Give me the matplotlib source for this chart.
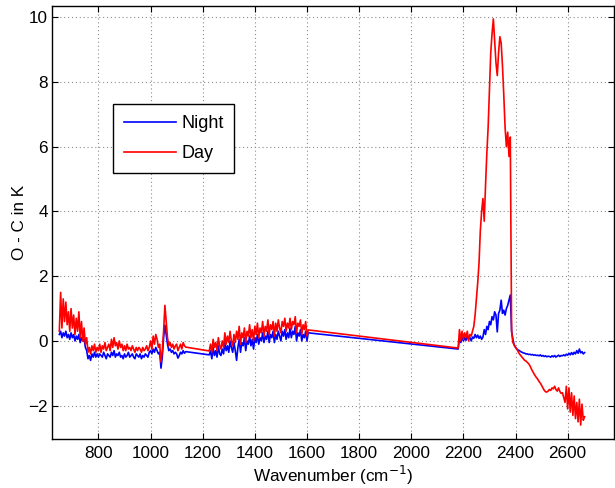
import numpy as np
import matplotlib.pyplot as plt

# Wavenumber grid (cm-1) for the three measured bands, 5 cm-1 sampling
wn_a = np.arange(650, 1136, 5)
wn_b = np.arange(1225, 1606, 5)
wn_c = np.arange(2180, 2666, 5)

# O - C values (K)
night_a = [0.2, 0.3, 0.1, 0.25, 0.15, 0.3, 0.1, 0.2, 0.05, 0.25,
           0.1, 0.2, 0.0, 0.15, 0.05, 0.2, -0.05, 0.1, 0.0, 0.05,
           -0.2, -0.3, -0.55, -0.45, -0.6, -0.4, -0.5, -0.35, -0.5, -0.4,
           -0.5, -0.4, -0.45, -0.5, -0.35, -0.45, -0.55, -0.4, -0.45, -0.5,
           -0.35, -0.45, -0.3, -0.5, -0.4, -0.45, -0.35, -0.5, -0.45, -0.55,
           -0.4, -0.5, -0.45, -0.35, -0.5, -0.45, -0.4, -0.5, -0.55, -0.4,
           -0.45, -0.5, -0.4, -0.55, -0.45, -0.5, -0.4, -0.45, -0.5, -0.35,
           -0.3, -0.4, -0.25, -0.35, -0.2, -0.3, -0.4, -0.35, -0.84, -0.5,
           0.1, 0.49, 0.2, -0.1, -0.3, -0.25, -0.35, -0.3, -0.4, -0.35,
           -0.4, -0.53, -0.45, -0.35, -0.4, -0.3, -0.38, -0.33]
day_a = [0.3, 1.5, 0.4, 1.3, 0.6, 1.2, 0.5, 0.9, 0.3, 1.0,
         0.4, 0.8, 0.2, 0.7, 0.3, 0.9, 0.1, 0.6, 0.0, 0.4,
         -0.1, 0.1, -0.35, -0.2, -0.4, -0.15, -0.3, -0.1, -0.35, -0.2,
         -0.3, -0.1, -0.35, -0.15, -0.25, -0.05, -0.3, -0.2, -0.1, -0.3,
         0.05, -0.2, 0.1, -0.15, -0.05, -0.25, 0.0, -0.2, -0.1, -0.3,
         -0.15, -0.3, -0.1, -0.25, -0.2, -0.3, -0.15, -0.25, -0.35, -0.2,
         -0.3, -0.2, -0.25, -0.35, -0.2, -0.3, -0.25, -0.15, -0.3, -0.2,
         0.0, -0.25, 0.15, -0.1, 0.2, 0.05, -0.2, -0.1, -0.65, -0.3,
         0.3, 1.1, 0.6, 0.1, -0.15, -0.05, -0.2, -0.1, -0.25, -0.15,
         -0.1, -0.3, -0.2, -0.1, -0.25, -0.05, -0.15, -0.19]

night_b = [-0.43, -0.3, -0.55, -0.2, -0.45, -0.3, -0.5, -0.15, -0.4, -0.45,
           -0.25, -0.4, -0.05, -0.3, -0.15, -0.35, 0.0, -0.2, -0.35, -0.05,
           -0.3, -0.6, -0.2, 0.05, -0.35, -0.05, -0.15, 0.1, -0.3, 0.0,
           -0.1, 0.15, -0.15, 0.05, -0.25, 0.1, -0.05, 0.2, -0.1, 0.1,
           0.0, 0.25, -0.05, 0.15, 0.05, 0.3, -0.05, 0.2, 0.1, 0.3,
           -0.05, 0.2, 0.05, 0.3, 0.15, 0.0, 0.3, 0.15, 0.35, 0.05,
           0.25, 0.1, 0.4, 0.1, 0.3, 0.2, 0.45, 0.0, 0.25, 0.15,
           0.35, 0.0, 0.2, 0.1, 0.3, 0.0, 0.25]
day_b = [-0.31, -0.1, -0.35, 0.05, -0.2, -0.05, -0.3, 0.1, -0.15, -0.25,
         0.0, -0.2, 0.25, -0.1, 0.15, -0.05, 0.3, 0.0, -0.15, 0.2,
         -0.05, 0.3, 0.05, 0.45, -0.1, 0.25, 0.1, 0.4, -0.05, 0.3,
         0.15, 0.5, 0.1, 0.35, 0.0, 0.45, 0.2, 0.55, 0.1, 0.4,
         0.25, 0.6, 0.15, 0.45, 0.3, 0.65, 0.2, 0.5, 0.35, 0.6,
         0.15, 0.55, 0.3, 0.65, 0.4, 0.25, 0.6, 0.45, 0.7, 0.3,
         0.55, 0.4, 0.7, 0.35, 0.6, 0.5, 0.75, 0.25, 0.55, 0.45,
         0.65, 0.2, 0.5, 0.35, 0.6, 0.15, 0.34]

night_c = [-0.25, 0.1, -0.05, 0.12, 0.0, 0.1, 0.02, 0.15, 0.05, 0.1,
           0.0, 0.12, 0.08, 0.2, 0.1, 0.18, 0.08, 0.15, 0.05, 0.12,
           0.35, 0.2, 0.45, 0.35, 0.6, 0.5, 0.75, 0.65, 0.9, 0.8,
           0.28, 0.85, 0.95, 1.26, 0.85, 0.95, 0.8, 1.0, 1.1, 1.26,
           1.42, 0.3, 0.05, -0.13, -0.2, -0.25, -0.28, -0.3, -0.33, -0.35,
           -0.37, -0.38, -0.4, -0.4, -0.42, -0.41, -0.43, -0.42, -0.44, -0.43,
           -0.45, -0.44, -0.46, -0.43, -0.47, -0.45, -0.48, -0.46, -0.49, -0.47,
           -0.48, -0.5, -0.46, -0.49, -0.45, -0.5, -0.47, -0.44, -0.48, -0.45,
           -0.46, -0.43, -0.46, -0.41, -0.44, -0.38, -0.43, -0.36, -0.42, -0.35,
           -0.4, -0.3, -0.38, -0.25, -0.37, -0.33, -0.4, -0.36]
day_c = [-0.22, 0.35, 0.0, 0.3, 0.05, 0.25, 0.1, 0.3, 0.0, 0.2,
         0.15, 0.3, 0.45, 0.8, 1.3, 1.8, 2.4, 3.4, 4.0, 4.4,
         3.7, 4.8, 5.8, 6.6, 7.8, 8.9, 9.5, 9.95, 9.3, 8.6,
         8.2, 8.9, 9.4, 9.2, 8.5, 7.6, 6.6, 6.0, 6.45, 5.7,
         6.3, 0.3, -0.05, -0.12, -0.2, -0.25, -0.33, -0.4, -0.45, -0.5,
         -0.55, -0.6, -0.62, -0.66, -0.7, -0.76, -0.85, -0.93, -1.0, -1.07,
         -1.13, -1.18, -1.25, -1.3, -1.37, -1.45, -1.52, -1.57, -1.58, -1.55,
         -1.5, -1.53, -1.45, -1.48, -1.4, -1.5, -1.55, -1.45, -1.56, -1.62,
         -1.6, -1.75, -1.9, -1.4, -2.1, -1.45, -2.2, -1.6, -2.3, -1.7,
         -2.4, -1.9, -2.5, -1.8, -2.6, -1.95, -2.45, -2.34]

wavenumber = np.concatenate([wn_a, wn_b, wn_c])
night = np.concatenate([night_a, night_b, night_c])
day = np.concatenate([day_a, day_b, day_c])

plt.rcParams['font.family'] = ['Liberation Sans', 'DejaVu Sans']
plt.rcParams['font.size'] = 12.3

fig = plt.figure(figsize=(6.15, 4.88), dpi=100)
ax = fig.add_axes([0.0846, 0.1004, 0.913, 0.888])

ax.plot(wavenumber, night, color='b', linewidth=1.2, label='Night')
ax.plot(wavenumber, day, color='r', linewidth=1.2, label='Day')

ax.set_xlim(622, 2776)
ax.set_ylim(-3.03, 10.36)
ax.set_xticks(range(800, 2601, 200))
ax.set_yticks(range(-2, 11, 2))

# MATLAB-like look
ax.grid(True, linestyle=(0, (1, 2.5)), color='0.55', linewidth=0.8)
ax.tick_params(direction='in', top=True, right=True, length=4.5, width=0.8)
ax.tick_params(axis='x', pad=5)
ax.tick_params(axis='y', pad=3)
for sp in ax.spines.values():
    sp.set_linewidth(1.0)

ax.set_xlabel('Wavenumber (cm$^{-1}$)', labelpad=2)
ax.set_ylabel('O - C in K', labelpad=1)

leg = ax.legend(loc='upper left', bbox_to_anchor=(0.108, 0.772),
                fontsize=13, fancybox=False, framealpha=1, edgecolor='k',
                handlelength=2.9, handletextpad=0.3, labelspacing=0.7,
                borderpad=0.6, borderaxespad=0)
leg.get_frame().set_linewidth(1.0)

fig.savefig('out.png', dpi=100)
